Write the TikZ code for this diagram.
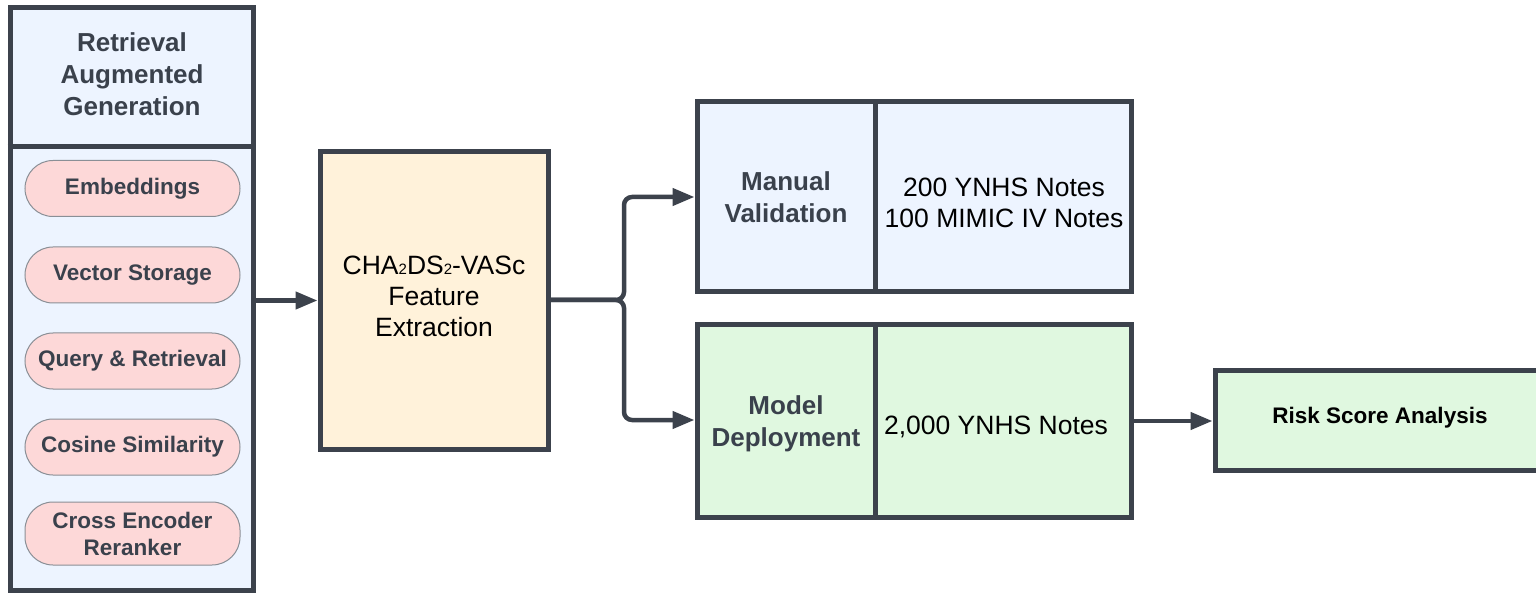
\documentclass[tikz,border=0pt]{standalone}
\usepackage{fontspec}
\setmainfont{Liberation Sans}
\usetikzlibrary{arrows.meta,calc}
\definecolor{lin}{HTML}{3C424C}
\definecolor{txt}{HTML}{3A414C}
\definecolor{bluef}{HTML}{EDF4FF}
\definecolor{pinkf}{HTML}{FDD8D8}
\definecolor{pinkd}{HTML}{8A8F96}
\definecolor{creamf}{HTML}{FFF2DA}
\definecolor{greenf}{HTML}{E0F8E0}
\newcommand\fhead{\fontsize{26}{32}\selectfont\bfseries}
\newcommand\fpill{\fontsize{22.5}{27}\selectfont\bfseries}
\newcommand\freg{\fontsize{26.5}{31}\selectfont}
\newcommand\subtwo{{\fontsize{15}{15}\selectfont 2}}
\tikzset{
  bigbox/.style={draw=lin, line width=5pt, rectangle, inner sep=0pt},
  pill/.style={draw=pinkd, line width=1pt, fill=pinkf, rectangle, rounded corners=28pt,
    minimum width=215pt, inner sep=0pt, text=txt, font=\fpill, align=center},
  lbl/.style={inner sep=0pt, align=center},
  conn/.style={draw=lin, line width=4.5pt, -{Triangle[length=22pt,width=17pt]}},
}
\begin{document}
\begin{tikzpicture}[x=1pt,y=-1pt]
\useasboundingbox (0,0) rectangle (1536,593);
% RAG box
\node[bigbox, fill=bluef, minimum width=243pt, minimum height=582pt] (rag) at (131.5,299) {};
\draw[lin, line width=5pt] (rag.west |- 0,147) -- (rag.east |- 0,147);
\node[lbl, text=txt, font=\fhead] (raghead) at (132,74) {Retrieval\\Augmented\\Generation};
\node[pill, minimum height=56pt] (p1) at (132.5,188.5) {Embeddings};
\node[pill, minimum height=56pt] (p2) at (132.5,275) {Vector Storage};
\node[pill, minimum height=56pt] (p3) at (132.5,361) {Query \& Retrieval};
\node[pill, minimum height=56pt] (p4) at (132.5,447) {Cosine Similarity};
\node[pill, minimum height=63pt] (p5) at (132.5,533.5) {Cross Encoder\\Reranker};
% CHA box
\node[bigbox, fill=creamf, minimum width=228pt, minimum height=297pt] (cha) at (434,300.5) {};
\node[lbl, font=\freg] (chatext) at (434,296) {CHA\subtwo DS\subtwo-VASc\\Feature\\Extraction};
% Manual validation
\node[bigbox, fill=bluef, minimum width=434pt, minimum height=190pt] (manual) at (914,197) {};
\draw[lin, line width=5pt] (875,0 |- manual.north) -- (875,0 |- manual.south);
\node[lbl, text=txt, font=\fhead] (mantext) at (786,197.5) {Manual\\Validation};
\node[lbl, font=\freg] (mannotes) at (1004,202.5) {200 YNHS Notes\\100 MIMIC IV Notes};
% Model deployment
\node[bigbox, fill=greenf, minimum width=434pt, minimum height=192pt] (model) at (914,421) {};
\draw[lin, line width=5pt] (875,0 |- model.north) -- (875,0 |- model.south);
\node[lbl, text=txt, font=\fhead] (modtext) at (786,424) {Model\\Deployment};
\node[lbl, font=\freg] (modnotes) at (996,427) {2,000 YNHS Notes};
% Risk
\node[bigbox, fill=greenf, minimum width=345pt, minimum height=100pt] (risk) at (1387.5,420) {};
\node[lbl, font=\fpill] (risktext) at (1380,418) {Risk Score Analysis};
% connectors
\coordinate (j) at (624,300);
\draw[conn] (cha.west -| rag.east) -- (cha.west);
\draw[conn, rounded corners=8pt] (cha.east |- j) -- (j) |- (manual.west);
\draw[conn, rounded corners=8pt] (cha.east |- j) -- (j) |- (model.west |- 0,420);
\draw[conn] (model.east) -- (model.east -| risk.west);
\end{tikzpicture}
\end{document}
